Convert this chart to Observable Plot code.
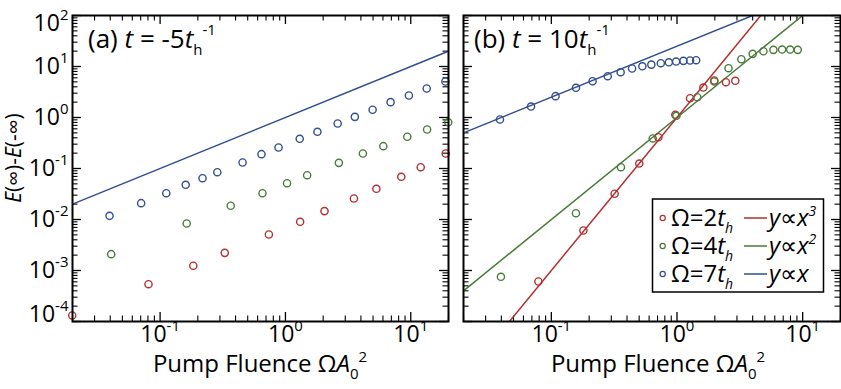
<!DOCTYPE html>
<html><head><meta charset="utf-8">
<script src="https://cdn.jsdelivr.net/npm/d3@7"></script>
<script src="https://cdn.jsdelivr.net/npm/@observablehq/plot@0.6"></script>
<style>
html,body{margin:0;padding:0;background:#fff;}
#chart{position:relative;width:841px;height:389px;overflow:hidden;font-family:"Open Sans",sans-serif;}
#chart svg{position:absolute;top:0;overflow:visible;}
</style></head><body><div id="chart"></div>
<script>
// ---------- colours ----------
const cRed = "#b3302f", cGreen = "#4a7b3a", cBlue = "#324e90";

// ---------- axis ticks ----------
const xDomain = [0.02, 20];
const yDomain = [1e-4, 1e2];
const xMajor = [0.1, 1, 10];
const xMinor = [0.02,0.03,0.04,0.05,0.06,0.07,0.08,0.09,0.2,0.3,0.4,0.5,0.6,0.7,0.8,0.9,2,3,4,5,6,7,8,9,20];
const yMajor = [1e-4,1e-3,1e-2,1e-1,1,10,100];
const yMinor = [];
for (const m of [1e-4,1e-3,1e-2,1e-1,1,10]) for (const k of [2,3,4,5,6,7,8,9]) yMinor.push(+(k*m).toPrecision(3));

// ---------- panel (a): t = -5 ----------
const aRedX   = [0.0199,0.0808,0.184,0.328,0.738,1.31,2.05,3.52,5.32,8.40,12.0,19.0];
const aRedY   = [1.31e-4,5.39e-4,1.24e-3,2.22e-3,5.08e-3,9.02e-3,0.0146,0.0258,0.040,0.0687,0.106,0.197];
const aGreenX = [0.0407,0.163,0.366,0.656,1.03,1.49,2.67,4.15,6.04,9.38,13.5,19.9];
const aGreenY = [0.00209,0.00835,0.0186,0.0328,0.0515,0.0739,0.129,0.197,0.274,0.419,0.582,0.809];
const aBlueX  = [0.0395,0.0706,0.112,0.160,0.218,0.286,0.455,0.644,0.881,1.30,1.80,2.61,3.58,4.96,6.90,9.66,13.4,18.9];
const aBlueY  = [0.0118,0.0209,0.0328,0.0479,0.0645,0.0847,0.131,0.191,0.258,0.382,0.524,0.762,1.03,1.42,2.0,2.70,3.70,5.08];
const aFitBlueX = [0.02, 20], aFitBlueY = [0.02, 20];

// ---------- panel (b): t = 10 ----------
const bRedX   = [0.0789,0.180,0.319,0.501,0.711,0.970,1.27,1.62,1.98,2.45,2.91];
const bRedY   = [6.08e-4,6.08e-3,0.032,0.125,0.411,1.13,2.39,3.87,5.31,4.92,5.24];
const bGreenX = [0.0397,0.157,0.358,0.641,0.989,1.45,1.98,2.57,3.25,4.00,4.87,5.85,6.86,7.95,9.14];
const bGreenY = [7.52e-4,0.0133,0.106,0.388,1.08,2.50,5.08,9.26,13.9,17.7,19.9,21.2,21.5,21.5,21.2];
const bBlueX  = [0.039,0.0689,0.108,0.157,0.213,0.281,0.356,0.439,0.530,0.625,0.743,0.861,0.984,1.125,1.27,1.42];
const bBlueY  = [0.914,1.64,2.62,3.82,5.15,6.45,7.73,9.14,10.1,10.9,11.6,12.1,12.5,12.9,13.1,13.3];
const bFitRedX = [0.02, 20],  bFitRedY = [8e-6, 8000];
const bFitGreenX = [0.02, 20], bFitGreenY = [4e-4, 400];
const bFitBlueX = [0.02, 20], bFitBlueY = [0.5, 500];

const legendRows = [
  {n:"2", c:cRed, fit:"3"},
  {n:"4", c:cGreen, fit:"2"},
  {n:"7", c:cBlue, fit:""}
];

const zip = (xs, ys) => xs.map((x,i)=>({x, y:ys[i]}));
const H = 389, MT = 15, MB = 68, PH = H - MT - MB;
const fmt = d => "10^" + Math.round(Math.log10(d));

function panel({width, marginLeft, marginRight, series, fits, yLabels}) {
  const PW = width - marginLeft - marginRight;
  const marks = [
    Plot.ruleX(xMinor, {x: d=>d, insetTop: PH-5.5, strokeWidth:1.1}),
    Plot.ruleX(xMajor, {x: d=>d, insetTop: PH-9, strokeWidth:1.3}),
    Plot.ruleX(xMinor, {x: d=>d, insetBottom: PH-5.5, strokeWidth:1.1}),
    Plot.ruleX(xMajor, {x: d=>d, insetBottom: PH-9, strokeWidth:1.3}),
    Plot.ruleY(yMinor, {y: d=>d, insetRight: PW-5.5, strokeWidth:1.1}),
    Plot.ruleY(yMajor, {y: d=>d, insetRight: PW-9, strokeWidth:1.3}),
    Plot.ruleY(yMinor, {y: d=>d, insetLeft: PW-5.5, strokeWidth:1.1}),
    Plot.ruleY(yMajor, {y: d=>d, insetLeft: PW-9, strokeWidth:1.3}),
    Plot.axisX(xMajor, {anchor:"bottom", tickSize:0, tickPadding:4, tickFormat: fmt, fontSize:23, label:null}),
  ];
  if (yLabels) marks.push(Plot.axisY(yMajor, {anchor:"left", tickSize:0, tickPadding:4, tickFormat: fmt, fontSize:23, label:null}));
  for (const f of fits) marks.push(Plot.line(f.data, {x:"x", y:"y", stroke:f.c, strokeWidth:1.5, clip:true}));
  for (const s of series) marks.push(Plot.dot(s.data, {x:"x", y:"y", r:3.6, stroke:s.c, strokeWidth:1.4, fill:"none", clip:false}));
  marks.push(Plot.frame({stroke:"black", strokeWidth:2}));
  return Plot.plot({
    width, height:H, marginLeft, marginRight, marginTop:MT, marginBottom:MB,
    x:{type:"log", domain:xDomain, label:null},
    y:{type:"log", domain:yDomain, label:null, axis: yLabels ? undefined : null},
    style:{fontFamily:'"Open Sans", sans-serif', background:"transparent", color:"black"},
    marks
  });
}

function supLabels(svg) {
  d3.select(svg).selectAll('g[aria-label$="tick label"] text').each(function(){
    const t = d3.select(this); const s = t.text(); const parts = s.split("^");
    if (parts.length < 2) return;
    t.text(null);
    t.append("tspan").text(parts[0]);
    t.append("tspan").attr("font-size", 15).attr("dy", "-0.75em").text(parts[1]);
    const isY = this.parentNode.getAttribute("aria-label").startsWith("y");
    if (isY && parts[1] === "2") t.attr("transform", (t.attr("transform")||"") + " translate(0,8)");
    if (isY && parts[1] === "-4") t.attr("transform", (t.attr("transform")||"") + " translate(0,-7)");
  });
}

function rich(sel, x, y, parts, size, anchor="start") {
  const t = sel.append("text").attr("x", x).attr("y", y).attr("font-size", size)
    .attr("text-anchor", anchor).attr("fill", "black").attr("font-family", '"Open Sans", sans-serif');
  let cur = 0;
  for (const p of parts) {
    const shift = p.shift || 0;
    const ts = t.append("tspan").text(p.t);
    if (shift !== cur) { ts.attr("dy", shift - cur); cur = shift; }
    if (p.size) ts.attr("font-size", p.size);
    if (p.it) ts.attr("font-style", "italic");
  }
  return t;
}

const chart = document.getElementById("chart");

const left = panel({
  width: 450, marginLeft: 72, marginRight: 2, yLabels: true,
  series: [{data: zip(aRedX,aRedY), c:cRed}, {data: zip(aGreenX,aGreenY), c:cGreen}, {data: zip(aBlueX,aBlueY), c:cBlue}],
  fits: [{data: zip(aFitBlueX,aFitBlueY), c:cBlue}]
});
left.style.left = "0px";
chart.appendChild(left);
supLabels(left);

const right = panel({
  width: 391, marginLeft: 13, marginRight: 1, yLabels: false,
  series: [{data: zip(bRedX,bRedY), c:cRed}, {data: zip(bGreenX,bGreenY), c:cGreen}, {data: zip(bBlueX,bBlueY), c:cBlue}],
  fits: [{data: zip(bFitRedX,bFitRedY), c:cRed}, {data: zip(bFitGreenX,bFitGreenY), c:cGreen}, {data: zip(bFitBlueX,bFitBlueY), c:cBlue}]
});
right.style.left = "450px";
chart.appendChild(right);
supLabels(right);

// ---------- text annotations ----------
const L = d3.select(left), R = d3.select(right);
function xTitleParts(){ return [{t:"Pump Fluence Ω"}, {t:"A", it:true}, {t:"0", size:15, shift:7}, {t:"2", size:15, shift:-10}]; }
rich(L, 260, 372, xTitleParts(), 24, "middle");
rich(R, 208, 372, xTitleParts(), 24, "middle");

const yt = L.append("g").attr("transform", "translate(21,158) rotate(-90)");
rich(yt, 0, 0, [{t:"E", it:true}, {t:"(∞)-"}, {t:"E", it:true}, {t:"(-∞)"}], 21, "middle");

rich(L, 88, 48, [{t:"(a) "}, {t:"t", it:true}, {t:" = -5"}, {t:"t", it:true}, {t:"h", size:15, shift:7}, {t:"-1", size:15, shift:-13}], 26);
rich(R, 24, 48, [{t:"(b) "}, {t:"t", it:true}, {t:" = 10"}, {t:"t", it:true}, {t:"h", size:15, shift:7}, {t:"-1", size:15, shift:-13}], 26);

// ---------- legend (right panel) ----------
const lg = R.append("g");
lg.append("rect").attr("x", 202.5).attr("y", 199).attr("width", 171).attr("height", 93)
  .attr("fill", "white").attr("stroke", "black").attr("stroke-width", 1.5);
legendRows.forEach((row, i) => {
  const base = 226 + i*28;
  lg.append("circle").attr("cx", 212.7).attr("cy", base-8).attr("r", 2.6)
    .attr("fill", "none").attr("stroke", row.c).attr("stroke-width", 1.2);
  rich(lg, 221, base, [{t:"Ω="+row.n}, {t:"t", it:true}, {t:"h", it:true, size:14, shift:7}], 24);
  lg.append("line").attr("x1", 294).attr("x2", 317).attr("y1", base-8).attr("y2", base-8)
    .attr("stroke", row.c).attr("stroke-width", 1.5);
  const parts = [{t:"y", it:true}, {t:"∝"}, {t:"x", it:true}];
  if (row.fit) parts.push({t:row.fit, it:true, size:14, shift:-10});
  rich(lg, 319, base, parts, 24);
});
</script></body></html>
